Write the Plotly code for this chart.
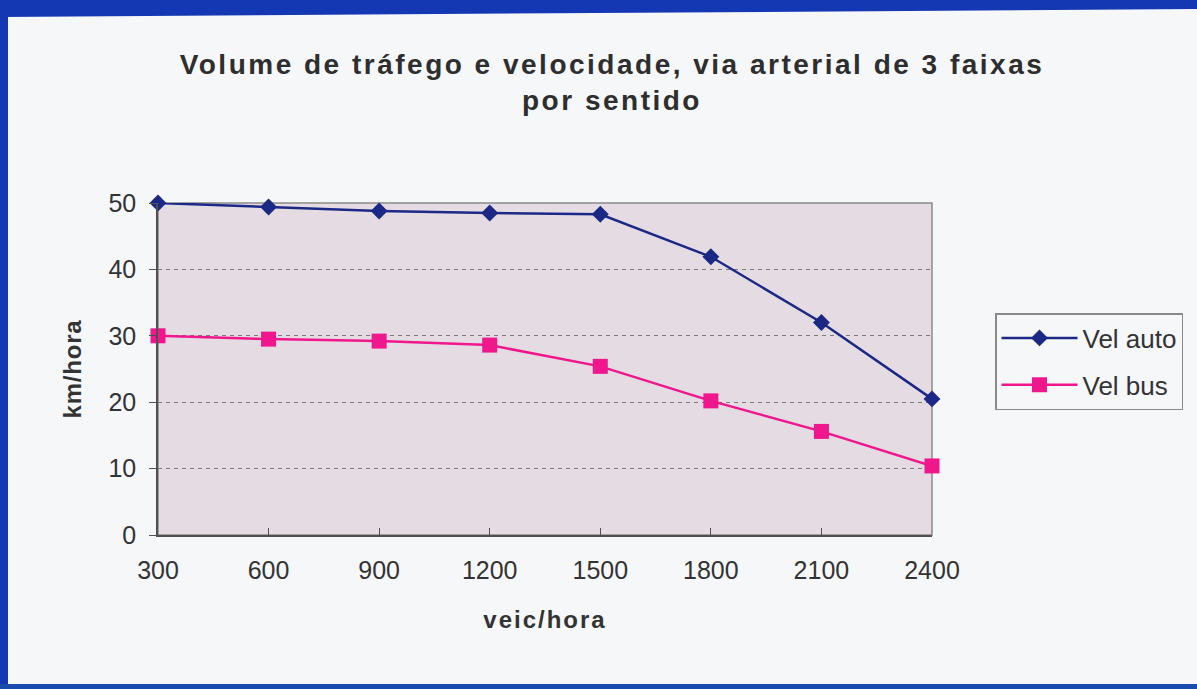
import plotly.graph_objects as go

volume = [300, 600, 900, 1200, 1500, 1800, 2100, 2400]
vel_auto = [50.0, 49.4, 48.8, 48.5, 48.3, 41.9, 32.0, 20.5]
vel_bus = [30.0, 29.5, 29.2, 28.6, 25.4, 20.2, 15.6, 10.4]
y_ticks = [0, 10, 20, 30, 40, 50]

W, H = 1197, 689
L, R, T, B = 158, 265, 203, 154

def px(x):
    return (x - L) / (W - L - R)

def py(y):
    return (H - B - y) / (H - T - B)

NAVY = "#1c2886"
PINK = "#f0168c"

fig = go.Figure()
fig.add_trace(go.Scatter(
    x=volume, y=vel_auto, name="Vel auto", mode="lines+markers",
    legendgroup="a",
    line=dict(color=NAVY, width=2.5),
    marker=dict(symbol="diamond", size=13, color=NAVY),
    cliponaxis=False,
))
fig.add_trace(go.Scatter(
    x=volume, y=vel_bus, name="Vel bus", mode="lines+markers",
    legendgroup="b",
    line=dict(color=PINK, width=2.5),
    marker=dict(symbol="square", size=15, color=PINK),
    cliponaxis=False,
))

BLUE = "#1438b4"
shapes = [
    dict(type="rect", xref="paper", yref="paper", x0=0, x1=1, y0=0, y1=1,
         line=dict(color="#8a8a8a", width=1.5), layer="between"),
    dict(type="path", xref="paper", yref="paper",
         path=f"M {px(0)},{py(0)} L {px(W)},{py(0)} L {px(W)},{py(9)} L {px(0)},{py(17)} Z",
         fillcolor=BLUE, line=dict(width=0), layer="above"),
    dict(type="rect", xref="paper", yref="paper", x0=px(0), x1=px(8), y0=py(0), y1=py(H),
         fillcolor=BLUE, line=dict(width=0), layer="above"),
    dict(type="rect", xref="paper", yref="paper", x0=px(0), x1=px(W), y0=py(684), y1=py(H),
         fillcolor="#1a4cb0", line=dict(width=0), layer="above"),
]

fig.update_layout(
    width=W, height=H,
    margin=dict(l=L, r=R, t=T, b=B),
    paper_bgcolor="#f6f7f9",
    plot_bgcolor="#e5dce3",
    font=dict(family="Arial, Liberation Sans, sans-serif", color="#333333", size=25),
    title=dict(
        text="<b>Volume de tráfego e velocidade, via arterial de 3 faixas<br>por sentido</b>",
        x=612 / W, xref="container", xanchor="center",
        y=1 - 74 / H, yref="container", yanchor="top",
        font=dict(size=28, color="#2e2e2e"),
    ),
    xaxis=dict(
        range=[300, 2400], tickvals=volume, ticktext=[str(v) for v in volume],
        showgrid=False, zeroline=False,
        showline=True, linecolor="#505050", linewidth=1.5,
        ticks="inside", ticklen=7, tickcolor="#505050", tickwidth=1.2,
        ticklabelstandoff=12,
        tickfont=dict(size=25),
        title=dict(text="<b>veic/hora</b>", standoff=28, font=dict(size=24, color="#333333")),
    ),
    yaxis=dict(
        range=[0, 50], tickvals=y_ticks,
        showgrid=True, gridcolor="#7a7a7a", griddash="4px,4px", gridwidth=1.2,
        zeroline=False,
        showline=True, linecolor="#505050", linewidth=1.5,
        ticks="outside", ticklen=7, tickcolor="#505050", tickwidth=1.2,
        ticklabelstandoff=8,
        tickfont=dict(size=25),
        title=dict(text="<b>km/hora</b>", standoff=20, font=dict(size=24, color="#333333")),
    ),
    legend=dict(
        x=px(995), xanchor="left", y=py(313), yanchor="top",
        bordercolor="#8a8a8a", borderwidth=1.5, bgcolor="rgba(0,0,0,0)",
        font=dict(size=26, color="#333333"),
        itemwidth=76, traceorder="grouped", tracegroupgap=10,
    ),
    shapes=shapes,
)

post = """
document.body.style.margin = '0';
var gd = document.getElementById('{plot_id}');
gd.querySelectorAll('.gtitle').forEach(function(t){ t.style.letterSpacing = '2.5px'; });
gd.querySelectorAll('.xtitle').forEach(function(t){ t.style.letterSpacing = '2px'; });
gd.querySelectorAll('.ytitle').forEach(function(t){ t.style.letterSpacing = '0.8px'; });
"""

fig.write_html("out.html", post_script=post, config={"displayModeBar": False})
